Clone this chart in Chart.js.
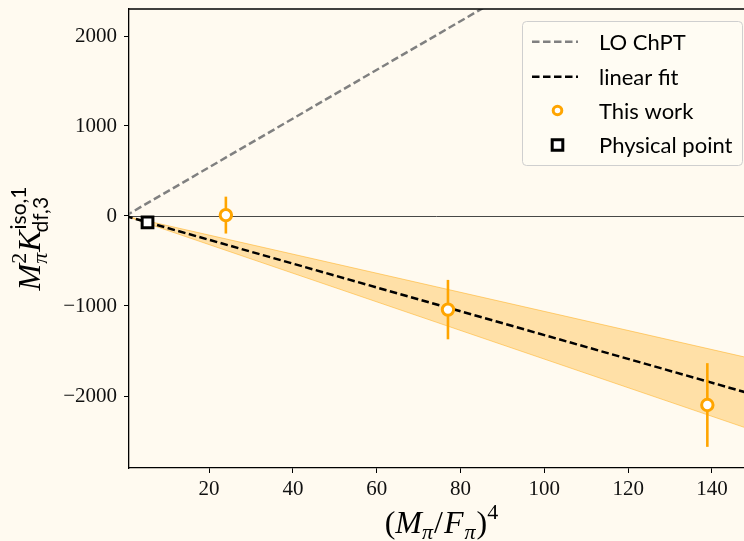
<!DOCTYPE html>
<html>
<head>
<meta charset="utf-8">
<script src="https://cdn.jsdelivr.net/npm/chart.js@4/dist/chart.umd.min.js"></script>
<style>
  html, body { margin: 0; padding: 0; background: #fffaf0; overflow: hidden; }
  #wrap { width: 744px; height: 541px; }
</style>
</head>
<body>
<div id="wrap"><canvas id="c" width="744" height="541"></canvas></div>
<script>
// Lattice points: (M_pi/F_pi)^4 vs M_pi^2 K_df,3^iso,1
const workX = [24.0, 77.0, 138.9];
const workY = [10, -1040, -2100];
const workErr = [205, 330, 465];

// Physical point
const physX = [5.3];
const physY = [-70];

// Linear fit through the origin with its uncertainty band
const fitX = [0, 150];
const fitY = [0, -1985];
const bandHi = [0, -1590];
const bandLo = [0, -2385];

// Leading-order ChPT prediction
const loX = [0, 150];
const loY = [0, 4060];

// Axis ticks
const xTicks = [20, 40, 60, 80, 100, 120, 140];
const yTicks = [-2000, -1000, 0, 1000, 2000];

const seriesNames = ['LO ChPT', 'linear fit', 'This work', 'Physical point'];

// Full x extent of the axes (the figure is cut off on the right)
const X_MIN = 0.88, X_FULL_MAX = 150, X_VIEW_MAX = 147.65;

const PLOT_TOP = 9, X_AXIS_H = 73, Y_AXIS_W = 129;

const BG = '#fffaf0';
const ORANGE = '#ffa500';
const GREY = '#808080';
const SERIF = '"Liberation Serif", "DejaVu Serif", serif';
const SANS = 'Lato, "DejaVu Sans", sans-serif';
const DASH = [7.5, 3.5];

const pts = (xs, ys) => xs.map((x, i) => ({ x: x, y: ys[i] }));

// Background
const bgPlugin = {
  id: 'bg',
  beforeDraw(chart) {
    const ctx = chart.ctx;
    ctx.save();
    ctx.fillStyle = BG;
    ctx.fillRect(0, 0, chart.width, chart.height);
    ctx.restore();
  }
};

// Horizontal line at y = 0
const zeroLine = {
  id: 'zeroLine',
  beforeDatasetsDraw(chart) {
    const { ctx, chartArea: a, scales: { y } } = chart;
    const py = Math.round(y.getPixelForValue(0)) + 0.5;
    ctx.save();
    ctx.strokeStyle = '#333';
    ctx.lineWidth = 0.9;
    ctx.beginPath();
    ctx.moveTo(a.left, py);
    ctx.lineTo(a.right, py);
    ctx.stroke();
    ctx.restore();
  }
};

// Vertical error bars on the lattice points
const errorBars = {
  id: 'errorBars',
  beforeDatasetDraw(chart, args) {
    if (args.index !== 1) return;
    const { ctx, scales: { x, y } } = chart;
    ctx.save();
    ctx.strokeStyle = ORANGE;
    ctx.lineWidth = 2.6;
    workX.forEach((wx, i) => {
      const px = x.getPixelForValue(wx);
      ctx.beginPath();
      ctx.moveTo(px, y.getPixelForValue(workY[i] + workErr[i]));
      ctx.lineTo(px, y.getPixelForValue(workY[i] - workErr[i]));
      ctx.stroke();
    });
    ctx.restore();
  }
};

// Draw a run of text pieces (with sub/superscripts) starting at x
function drawRun(ctx, pieces, x, y) {
  let cx = x;
  pieces.forEach(p => {
    if (p.stack) {
      let w = 0;
      p.stack.forEach(s => {
        ctx.font = s.font;
        ctx.fillText(s.t, cx + (s.dx || 0), y + s.dy);
        w = Math.max(w, ctx.measureText(s.t).width + (s.dx || 0));
      });
      cx += w + (p.gap || 0);
    } else {
      ctx.font = p.font;
      ctx.fillText(p.t, cx + (p.dx || 0), y + (p.dy || 0));
      cx += ctx.measureText(p.t).width + (p.dx || 0) + (p.gap || 0);
    }
  });
  return cx - x;
}
function runWidth(ctx, pieces) {
  let w = 0;
  pieces.forEach(p => {
    if (p.stack) {
      let m = 0;
      p.stack.forEach(s => { ctx.font = s.font; m = Math.max(m, ctx.measureText(s.t).width + (s.dx || 0)); });
      w += m + (p.gap || 0);
    } else {
      ctx.font = p.font;
      w += ctx.measureText(p.t).width + (p.dx || 0) + (p.gap || 0);
    }
  });
  return w;
}

// Axis titles and frame
const titles = {
  id: 'titles',
  afterDraw(chart) {
    const { ctx, chartArea: a, scales: { x } } = chart;
    ctx.save();
    ctx.fillStyle = '#000';
    ctx.textBaseline = 'alphabetic';

    const big = 'italic 32px ' + SERIF;
    const up = '32px ' + SERIF;
    const small = 'italic 22px ' + SERIF;
    const smallUp = '22px ' + SERIF;
    const sansSmall = '21px ' + SANS;

    // x title: (M_pi / F_pi)^4, centred on the full axis width
    const xt = [
      { t: '(', font: up },
      { t: 'M', font: big },
      { t: 'π', font: small, dy: 6, gap: 1 },
      { t: '/', font: up, gap: 1 },
      { t: 'F', font: big, gap: 1 },
      { t: 'π', font: small, dy: 6, gap: 1 },
      { t: ')', font: up },
      { t: '4', font: smallUp, dy: -14 }
    ];
    const xw = runWidth(ctx, xt);
    const xc = (a.left + x.getPixelForValue(X_FULL_MAX)) / 2;
    drawRun(ctx, xt, xc - xw / 2, 533);

    // y title: M_pi^2 K_df,3^iso,1 (rotated)
    const yt = [
      { t: 'M', font: big },
      { stack: [
          { t: '2', font: smallUp, dy: -14 },
          { t: 'π', font: small, dy: 7 }
        ], gap: 1 },
      { t: 'K', font: big, gap: 1 },
      { stack: [
          { t: 'iso,1', font: sansSmall, dy: -14 },
          { t: 'df,3', font: sansSmall, dy: 8, dx: -3 }
        ] }
    ];
    const yw = runWidth(ctx, yt);
    ctx.translate(40, (a.top + a.bottom) / 2);
    ctx.rotate(-Math.PI / 2);
    drawRun(ctx, yt, -yw / 2, 0);
    ctx.restore();

    // Top spine (left and bottom come from the axis borders)
    ctx.save();
    ctx.strokeStyle = '#000';
    ctx.lineWidth = 1.3;
    ctx.beginPath();
    ctx.moveTo(a.left, a.top);
    ctx.lineTo(a.right, a.top);
    ctx.stroke();
    ctx.restore();
  }
};

// Legend box in the upper right
const legendBox = {
  id: 'legendBox',
  afterDraw(chart) {
    const ctx = chart.ctx;
    const L = 522.5, T = 21.5, R = 742.5, B = 165.5, r = 4;
    ctx.save();
    ctx.beginPath();
    ctx.moveTo(L + r, T);
    ctx.arcTo(R, T, R, B, r);
    ctx.arcTo(R, B, L, B, r);
    ctx.arcTo(L, B, L, T, r);
    ctx.arcTo(L, T, R, T, r);
    ctx.closePath();
    ctx.fillStyle = 'rgba(255,251,243,0.85)';
    ctx.fill();
    ctx.strokeStyle = '#cfcfcf';
    ctx.lineWidth = 1;
    ctx.stroke();

    const rows = [41.7, 76.7, 110.5, 145];
    const textX = 599;
    const sx0 = 532, sx1 = 578, mx = 557.5;

    ctx.lineWidth = 2.5;
    ctx.setLineDash(DASH);
    ctx.strokeStyle = GREY;
    ctx.beginPath(); ctx.moveTo(sx0, rows[0]); ctx.lineTo(sx1, rows[0]); ctx.stroke();
    ctx.strokeStyle = '#000';
    ctx.beginPath(); ctx.moveTo(sx0, rows[1]); ctx.lineTo(sx1, rows[1]); ctx.stroke();
    ctx.setLineDash([]);

    ctx.lineWidth = 3;
    ctx.strokeStyle = ORANGE;
    ctx.fillStyle = '#fff';
    ctx.beginPath(); ctx.arc(mx, rows[2], 4.3, 0, Math.PI * 2); ctx.fill(); ctx.stroke();

    ctx.strokeStyle = '#000';
    ctx.beginPath(); ctx.rect(mx - 5.3, rows[3] - 5.3, 10.6, 10.6); ctx.fill(); ctx.stroke();

    ctx.fillStyle = '#000';
    ctx.font = '22px ' + SANS;
    ctx.textBaseline = 'middle';
    seriesNames.forEach((n, i) => ctx.fillText(n, textX, rows[i] + 1));
    ctx.restore();
  }
};

const tickFont = { family: SERIF, size: 21 };
const fmt = v => (v < 0 ? '\u2212' + Math.abs(v) : String(v));

new Chart(document.getElementById('c'), {
  data: {
    datasets: [
      { type: 'scatter', label: seriesNames[3], data: pts(physX, physY),
        pointStyle: 'rect', radius: 7.6, borderWidth: 3,
        borderColor: '#000', backgroundColor: '#fff' },
      { type: 'scatter', label: seriesNames[2], data: pts(workX, workY),
        pointStyle: 'circle', radius: 5.7, borderWidth: 3,
        borderColor: ORANGE, backgroundColor: '#fff' },
      { type: 'line', label: seriesNames[0], data: pts(loX, loY),
        borderColor: GREY, borderWidth: 2.5, borderDash: DASH,
        pointRadius: 0, fill: false },
      { type: 'line', label: seriesNames[1], data: pts(fitX, fitY),
        borderColor: '#000', borderWidth: 2.5, borderDash: DASH,
        pointRadius: 0, fill: false },
      { type: 'line', label: 'band low', data: pts(fitX, bandLo),
        borderColor: 'rgba(255,165,0,0.45)', borderWidth: 1,
        pointRadius: 0, fill: '+1', backgroundColor: 'rgba(255,165,0,0.3)' },
      { type: 'line', label: 'band high', data: pts(fitX, bandHi),
        borderColor: 'rgba(255,165,0,0.45)', borderWidth: 1,
        pointRadius: 0, fill: false }
    ]
  },
  options: {
    responsive: false,
    animation: false,
    devicePixelRatio: 1,
    layout: { autoPadding: false, padding: { left: 0, top: PLOT_TOP, right: 0, bottom: 0 } },
    plugins: { legend: { display: false }, tooltip: { enabled: false } },
    scales: {
      x: {
        type: 'linear', min: X_MIN, max: X_VIEW_MAX,
        afterBuildTicks: s => { s.ticks = xTicks.map(v => ({ value: v })); },
        afterFit: s => { s.height = X_AXIS_H; },
        grid: { drawOnChartArea: false, drawTicks: true, tickLength: 5, color: '#000', lineWidth: 1 },
        border: { display: true, color: '#000', width: 1.3 },
        ticks: { font: tickFont, color: '#111', padding: 4, maxRotation: 0, callback: fmt }
      },
      y: {
        type: 'linear', min: -2800, max: 2300,
        afterBuildTicks: s => { s.ticks = yTicks.map(v => ({ value: v })); },
        afterFit: s => {
          s.width = Y_AXIS_W;
          s.paddingTop = 0; s.paddingBottom = 0;
          s._margins.top = PLOT_TOP;
          s._margins.bottom = X_AXIS_H;
          s.height = s._length = s.chart.height - PLOT_TOP - X_AXIS_H;
        },
        grid: { drawOnChartArea: false, drawTicks: true, tickLength: 5, color: '#000', lineWidth: 1 },
        border: { display: true, color: '#000', width: 1.3 },
        ticks: { font: tickFont, color: '#111', padding: 7, callback: fmt }
      }
    }
  },
  plugins: [bgPlugin, zeroLine, errorBars, titles, legendBox]
});
</script>
</body>
</html>
